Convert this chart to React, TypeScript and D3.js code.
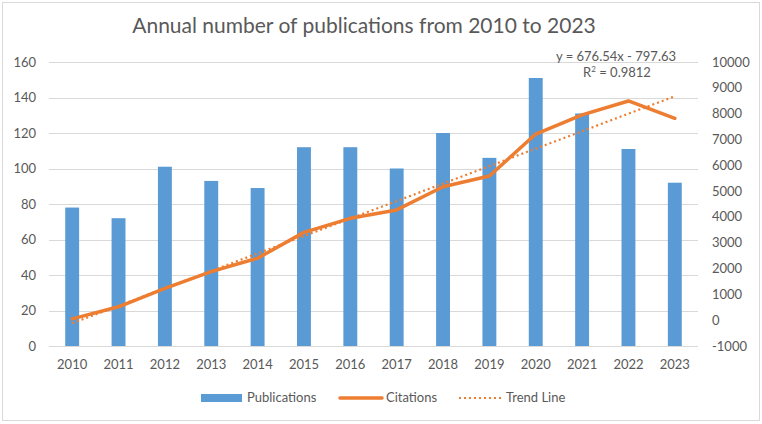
import React from "react";
import * as d3 from "d3";

const years = ["2010","2011","2012","2013","2014","2015","2016","2017","2018","2019","2020","2021","2022","2023"];
const publications = [78, 72, 101, 93, 89, 112, 112, 100, 120, 106, 151, 131, 111, 92];
const citations = [50, 520, 1235, 1880, 2400, 3400, 3945, 4270, 5170, 5585, 7210, 7950, 8490, 7820];
const leftTicks = [0, 20, 40, 60, 80, 100, 120, 140, 160];
const rightTicks = [-1000, 0, 1000, 2000, 3000, 4000, 5000, 6000, 7000, 8000, 9000, 10000];
const trendSlope = 676.54;
const trendIntercept = -797.63;
const title = "Annual number of publications from 2010 to 2023";
const eqText = "y = 676.54x - 797.63";

const W = 762, H = 424;
const plotL = 49, plotR = 698, plotT = 62, plotB = 346;
const font = "Lato, 'Open Sans', sans-serif";
const txt = "#595959";
const blue = "#5b9bd5";
const orange = "#ed7d31";
const fs = 13;

export default function App() {
  const x = d3.scaleBand<string>().domain(years).range([plotL, plotR]).paddingInner(0.7).paddingOuter(0.35);
  const cx = (y: string) => (x(y) as number) + x.bandwidth() / 2;
  const yL = d3.scaleLinear().domain([0, 160]).range([plotB, plotT]);
  const yR = d3.scaleLinear().domain([-1000, 10000]).range([plotB, plotT]);
  const line = d3.line<number>().x((_, i) => cx(years[i])).y((d) => yR(d));
  const trendPts = years.map((_, i) => trendSlope * (i + 1) + trendIntercept);

  return (
    <svg width={W} height={H} style={{ position: "absolute", left: 0, top: 0, fontFamily: font }}>
      <rect x={0} y={0} width={W} height={H} fill="#fff" />
      <rect x={2.5} y={2.5} width={757} height={418} fill="none" stroke="#d9d9d9" />
      <text x={364} y={33} textAnchor="middle" fontSize={21} fill={txt}>{title}</text>
      {leftTicks.map((t) => (
        <line key={"g" + t} x1={plotL} x2={plotR} y1={Math.round(yL(t)) + 0.5} y2={Math.round(yL(t)) + 0.5} stroke="#d9d9d9" strokeWidth={1} />
      ))}
      {leftTicks.map((t) => (
        <text key={"l" + t} x={36} y={yL(t) + 4.5} textAnchor="end" fontSize={fs} fill={txt}>{t}</text>
      ))}
      {rightTicks.map((t) => (
        <text key={"r" + t} x={712} y={yR(t) + 4.5} textAnchor="start" fontSize={fs} fill={txt}>{t}</text>
      ))}
      {years.map((y, i) => (
        <rect key={"b" + y} x={x(y)} y={yL(publications[i])} width={x.bandwidth()} height={plotB - yL(publications[i])} fill={blue} />
      ))}
      {years.map((y) => (
        <text key={"x" + y} x={cx(y)} y={369} textAnchor="middle" fontSize={fs} fill={txt}>{y}</text>
      ))}
      <path d={line(trendPts) || ""} fill="none" stroke={orange} strokeWidth={2.2} strokeDasharray="2 3" />
      <path d={line(citations) || ""} fill="none" stroke={orange} strokeWidth={3.5} strokeLinejoin="round" strokeLinecap="round" />
      <text x={616} y={61} textAnchor="middle" fontSize={fs} fill={txt}>{eqText}</text>
      <text x={617} y={77} textAnchor="middle" fontSize={fs} fill={txt}>R<tspan fontSize={8} dy={-5}>2</tspan><tspan dy={5}> = 0.9812</tspan></text>
      <g>
        <rect x={201} y={394} width={41} height={8} fill={blue} />
        <text x={247} y={402} fontSize={fs} fill={txt}>Publications</text>
        <line x1={340} x2={382} y1={398} y2={398} stroke={orange} strokeWidth={3.5} strokeLinecap="round" />
        <text x={386} y={402} fontSize={fs} fill={txt}>Citations</text>
        <line x1={459} x2={501} y1={398} y2={398} stroke={orange} strokeWidth={2.2} strokeDasharray="2 3" />
        <text x={506} y={402} fontSize={fs} fill={txt}>Trend Line</text>
      </g>
    </svg>
  );
}
